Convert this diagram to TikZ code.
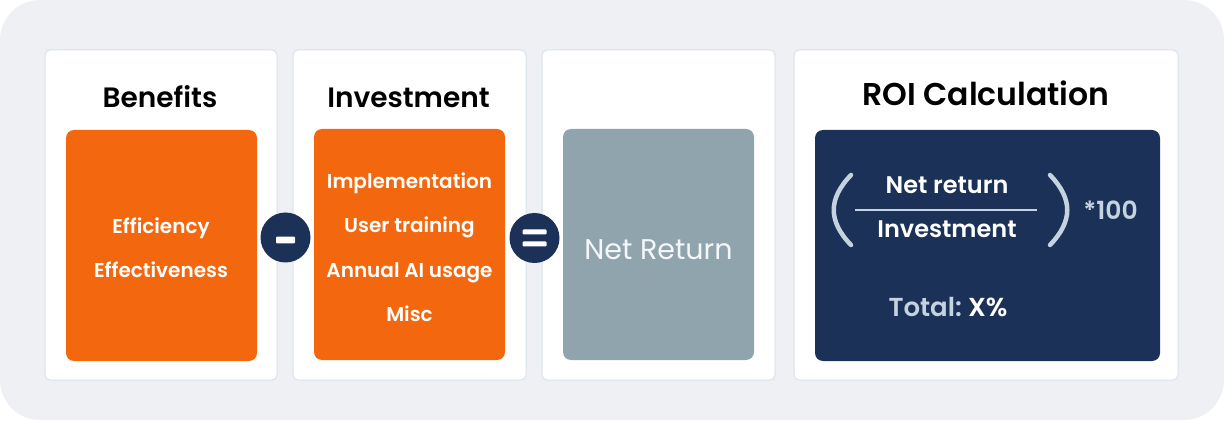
\documentclass[tikz,border=0pt]{standalone}
\usepackage{fontspec}
\setmainfont{Poppins}
\newfontfamily\semibold{Poppins SemiBold}
\newfontfamily\medium{Poppins Medium}
\usetikzlibrary{positioning}

\definecolor{fonbg}{HTML}{EEF0F3}
\definecolor{cardline}{HTML}{D8E2EC}
\definecolor{roiorange}{HTML}{F3680F}
\definecolor{roinavy}{HTML}{1B3157}
\definecolor{slate}{HTML}{90A4AE}
\definecolor{paren}{HTML}{C5D2DF}
\definecolor{nrtext}{HTML}{F4F6F8}

\tikzset{
    card/.style={draw=cardline, line width=1pt, fill=white, rounded corners=5pt, inner sep=0pt, minimum height=330pt},
    inbox/.style={rounded corners=8pt, inner sep=0pt, minimum width=191pt, minimum height=231pt},
    title/.style={anchor=base, text=black, font=\semibold\fontsize{28}{33}\selectfont},
    item/.style={anchor=base, text=white, font=\semibold\fontsize{20}{24}\selectfont},
    sign/.style={circle, fill=roinavy, minimum size=50pt, inner sep=0pt},
    frac/.style={anchor=base, text=white, font=\semibold\fontsize{24}{28}\selectfont},
}

\begin{document}
\begin{tikzpicture}[x=1pt, y=-1pt]
        % Фон
        \useasboundingbox (0,0) rectangle (1224,422);
        \fill[fonbg, rounded corners=40pt] (0,0) rectangle (1224,420);

        % Карточки
        \foreach \name/\cx/\w in {benefitsCard/161/232pt, investCard/409.5/233pt,
                                  netCard/658.5/233pt, roiCard/986/384pt}
        {
            \node[card, minimum width=\w] (\name) at (\cx,215) {};
        }

        % Цветные блоки
        \node[inbox, fill=roiorange] (benefitsBox) at (161.5,245.5) {};
        \node[inbox, fill=roiorange] (investBox) at (409.5,244.5) {};
        \node[inbox, fill=slate] (netBox) at (658.5,244.5) {};
        \node[inbox, fill=roinavy, minimum width=345pt] (roiBox) at (987.5,245.5) {};

        % Заголовки
        \node[title] (benefitsTitle) at (160,108) {Benefits};
        \node[title] (investTitle) at (408.5,108) {Investment};
        \node[title, font=\semibold\fontsize{31.5}{37}\selectfont] (roiTitle) at (986,106) {ROI Calculation};

        % Пункты
        \foreach \t [count=\i] in {Efficiency, Effectiveness}
            \node[item] (benefit\i) at (161,191+43*\i) {\t};
        \foreach \t [count=\i] in {Implementation, User training, Annual AI usage, Misc}
            \node[item] (invest\i) at (409.5,145+44*\i) {\t};

        \node[anchor=base, text=nrtext, font=\fontsize{28.5}{34}\selectfont] (netText) at (658.5,259) {Net Return};

        % Знаки
        \node[sign] (minusSign) at (285.5,237.5) {};
        \node[sign] (equalSign) at (534.5,238) {};
        \fill[white, rounded corners=1pt] ([xshift=-9.5pt,yshift=0.8pt]minusSign.center) rectangle ([xshift=9.5pt,yshift=-5.8pt]minusSign.center);
        \foreach \dy in {3.5,-8.5}
            \fill[white, rounded corners=1pt] ([xshift=-12pt,yshift=\dy pt]equalSign.center) rectangle ([xshift=12pt,yshift=\dy pt+5pt]equalSign.center);

        % Формула
        \node[frac] (fracNum) at (947,193.5) {Net return};
        \node[frac] (fracDen) at (947,237.5) {Investment};
        \coordinate (barL) at (855,210);
        \coordinate (barR) at (1037,210);
        \draw[paren, line width=2pt] (barL) -- (barR);
        \draw[paren, line width=4.5pt, line cap=round] (851,175) .. controls (828,199) and (828,221) .. (851,245);
        \draw[paren, line width=4.5pt, line cap=round] (1050,175) .. controls (1073,199) and (1073,221) .. (1050,245);
        \node[anchor=base, text=paren, font=\semibold\fontsize{25}{30}\selectfont] (times) at (1110.5,220) {*100};
        \node[anchor=base, font=\semibold\fontsize{26}{31}\selectfont] (total) at (948,316.7) {\textcolor{paren}{Total:}\hspace{-2pt} \textcolor{white}{X\%}};
\end{tikzpicture}
\end{document}
